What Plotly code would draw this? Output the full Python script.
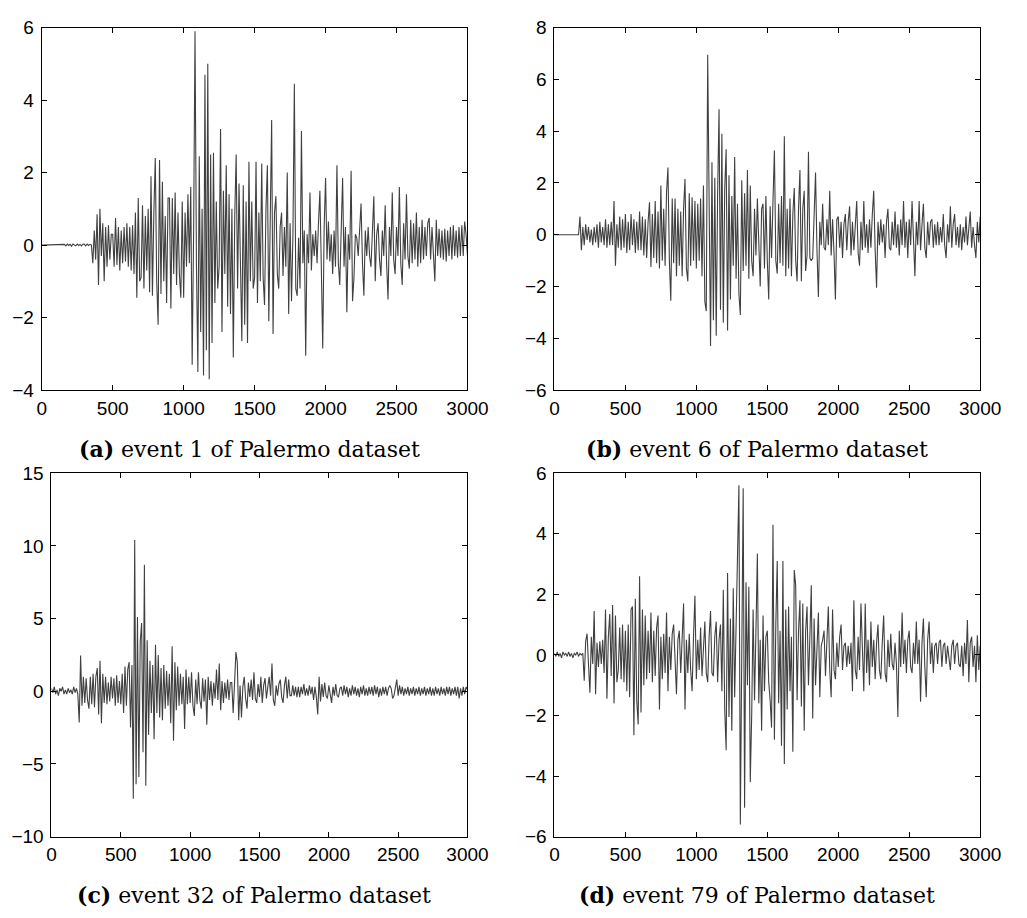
import numpy as np
import plotly.graph_objects as go

STEP = 10

# ---- event 1 (panel a) ----
event1 = [
    0, 0, 0, 0, 0, 0, 0, 0, 0, 0,
    0, 0, 0, 0, 0, 0, 0.02, -0.02, 0.03, -0.01,
    0.02, -0.03, 0.03, 0.0, -0.02, 0.03, -0.01, 0.02, -0.02, 0.03,
    0.02, -0.02, 0.03, -0.01, 0.02, 0.0, -0.5, 0.4, -0.4, 0.85,
    -1.1, 1.0, -0.3, 0.6, -1.0, 0.5, -0.6, 0.55, -0.4, 0.3,
    0.3, -0.6, 0.75, -0.55, 0.5, -0.7, 0.4, -0.5, 0.5, -0.45,
    0.6, -0.6, 0.5, -0.7, 0.55, -0.8, 0.9, -1.45, 1.3, -1.0,
    -0.9, 1.1, -1.2, 0.8, -0.7, 1.0, -1.3, 1.9, -1.4, 0.9,
    2.4, -1.0, -2.2, 2.35, -1.35, 1.75, -1.0, 0.8, -1.6, 1.3,
    1.3, -1.75, 1.3, -0.8, 1.45, -1.1, 0.9, -0.8, -1.45, 1.2,
    -1.45, 0.9, -0.6, 1.4, -0.5, 1.6, -3.3, 0.3, 5.9, -0.5,
    -3.5, 2.45, -2.4, 1.0, -3.6, 4.7, -2.9, 5.0, -3.7, 2.5,
    -2.7, 2.55, -1.6, 1.2, -1.2, -0.6, 3.2, -2.4, 1.5, -0.8,
    2.2, -1.7, 1.4, -1.9, 1.0, -3.1, 0.8, 2.5, -1.2, 1.7,
    -0.8, -2.65, 1.65, -2.2, 1.2, -2.7, 2.3, -1.0, 1.2, -1.2,
    -0.9, 2.3, -1.6, 0.9, -1.0, 2.25, -0.9, -1.65, 1.0, 2.2,
    -2.1, 0.8, 3.45, -2.45, 0.9, 1.35, -0.8, -1.2, 0.5, 0.9,
    -0.85, 0.5, -0.6, 2.0, -1.9, 0.6, -1.55, 0.3, 4.45, -1.2,
    -1.4, 0.2, -1.2, 3.15, -0.5, 0.4, -3.05, 0.3, -0.5, 1.45,
    -0.7, 0.3, -0.3, 0.4, -0.5, 0.6, 1.5, -0.6, -2.85, 0.5,
    1.85, -0.4, 0.65, -0.45, 0.3, -0.8, 0.4, -0.6, 2.2, -0.5,
    -1.1, 0.4, 1.85, -0.6, 0.5, -1.85, 0.3, -0.4, 2.05, -1.55,
    -0.9, 0.3, 0.2, -0.3, 0.6, 1.15, -0.5, -1.4, 0.4, -0.3,
    0.5, -0.3, -0.6, 0.4, 1.35, -1.0, 0.3, 0.6, -0.4, -0.85,
    0.4, -0.3, 1.1, -0.5, -1.5, 0.5, -0.3, 1.45, -0.4, -0.8,
    0.5, -0.3, 1.6, -0.5, -1.1, 0.6, -0.4, 1.4, -0.3, -0.65,
    0.7, -0.5, 0.6, -0.4, 0.9, -0.6, 0.5, -0.5, 0.7, -0.4,
    0.5, -0.3, 0.6, 0.75, -0.4, 0.5, -0.3, -1.0, 0.7, -0.3,
    0.45, -0.35, 0.4, -0.4, 0.45, -0.45, 0.4, -0.3, 0.5, -0.4,
    0.55, -0.3, 0.4, -0.35, 0.5, -0.3, 0.55, -0.3, 0.65, 0.3,
    -0.3,
]

# ---- event 6 (panel b) ----
event6 = [
    0, 0, 0, 0, 0, 0, 0, 0, 0, 0,
    0, 0, 0, 0, 0, 0, 0, 0, 0.7, -0.6,
    0.3, -0.4, 0.4, -0.2, 0.3, -0.3, 0.2, -0.4, 0.3, -0.3,
    0.4, -0.5, 0.5, -0.3, 0.3, -0.4, 0.6, -0.5, 0.4, -0.4,
    0.5, -0.4, 1.3, -1.2, 0.4, -0.5, 0.7, -0.6, 0.6, -0.5,
    0.8, -0.7, 0.5, -0.6, 0.8, -0.4, 0.6, -0.7, 0.5, -0.6,
    0.9, -0.6, 0.7, -0.8, 0.6, -0.9, 0.5, 1.25, -1.25, 0.8,
    -0.9, 1.3, -1.1, 0.9, -1.3, 1.9, -1.0, 1.0, -1.2, 1.65,
    2.6, -1.0, -2.55, 1.4, -1.1, 1.4, -1.6, 1.0, -1.2, 0.9,
    -1.6, 1.0, 2.15, -1.3, -1.8, 1.6, -1.2, 1.45, -1.0, 1.3,
    -1.3, 1.2, -1.0, 1.4, -1.6, 1.9, -2.6, -2.95, 6.95, 0.6,
    -4.3, 2.8, -3.3, 2.2, -3.9, 1.6, 4.85, -2.9, 3.9, -3.4,
    1.8, 3.3, -3.7, 2.3, -2.5, 1.5, -1.2, 3.0, -1.7, 1.2,
    -2.3, -3.1, 2.1, -1.4, 1.6, -1.2, 2.5, -1.7, 1.9, -1.0,
    -1.6, 1.0, -0.8, 1.4, -0.9, -2.0, 1.0, 1.2, -1.3, 1.5,
    -1.0, -2.5, 1.1, -0.9, 1.3, 3.25, -1.0, -1.5, 1.2, -1.1,
    1.5, -1.2, 3.8, -1.6, 1.0, -1.3, 1.4, -1.6, 0.8, 1.8,
    -1.0, -1.8, 1.0, 2.5, -1.8, 1.0, 1.7, -1.4, -0.8, 3.2,
    -0.9, -1.0, -0.9, 0.8, 2.4, -0.6, -2.4, 0.5, -0.4, 1.2,
    -0.5, -0.6, 0.6, -0.4, 1.7, -0.8, 0.6, -0.7, -2.5, 0.6,
    0.7, -0.5, 0.5, -0.9, 0.4, 0.8, -0.6, 0.5, 1.1, -0.8,
    0.5, -0.6, 0.6, 1.3, -0.7, -1.2, 0.5, -0.6, 1.3, -0.5,
    0.4, -0.7, 0.6, -0.5, 0.8, 1.7, -0.6, -2.05, 0.5, -0.4,
    0.6, -0.3, 0.4, -0.9, 0.5, 1.0, -0.5, -0.6, 0.5, -0.4,
    0.9, -0.5, 0.4, -0.8, 0.6, -0.4, 1.3, -0.5, 0.5, -0.9,
    0.6, -0.4, 1.3, -0.5, -1.6, 0.5, -0.4, 1.3, -0.6, 0.4,
    1.2, -0.5, -0.9, 0.5, -0.4, 0.5, 0.6, -0.5, 0.4, -0.4,
    0.5, -0.4, 0.3, -0.3, 0.8, -0.4, -0.9, 0.4, -0.3, 1.1,
    -0.5, 0.4, 0.8, -0.4, 0.3, -0.5, 0.4, -0.6, 0.3, -0.3,
    0.7, -0.4, 0.4, 0.9, -0.5, 0.3, -0.4, -0.9, 0.5, -0.3,
    0.7,
]

# ---- event 32 (panel c) ----
event32 = [
    0.2, -0.1, 0.3, -0.2, 0.1, -0.3, 0.2, 0.0, 0.3, -0.2,
    0.1, -0.2, 0.2, -0.1, 0.1, -0.2, 0.3, -0.1, 0.2, -0.2,
    -2.15, 2.45, -1.0, 1.0, -0.8, 0.9, -0.6, -1.2, 1.0, -0.9,
    1.2, -1.1, 1.0, 1.6, -1.6, 2.1, -2.2, 1.2, -0.8, 1.0,
    -0.9, 0.6, -0.7, 1.0, -0.5, 0.9, -1.0, 1.1, -0.8, 0.7,
    -0.9, 1.2, -1.5, 1.7, -1.0, 1.5, 2.0, -2.5, 1.8, -7.4,
    10.4, -6.4, 5.1, -5.9, 3.4, 4.7, -4.2, 8.7, -6.5, 3.5,
    -3.0, 2.1, -1.5, 1.8, -3.3, 3.2, -1.5, 2.5, -1.8, 1.6,
    -2.0, 1.8, -1.2, 1.4, -1.0, 1.2, -2.2, 3.1, -3.4, 2.0,
    -1.3, 1.7, -1.0, 1.2, -0.9, 1.0, -2.6, 1.5, -0.9, 1.0,
    -0.8, 1.3, -1.0, -1.7, 0.8, -0.9, 1.3, -0.6, -1.2, 0.9,
    -0.7, 0.8, -2.3, 1.0, -0.6, 0.7, -1.0, 0.6, -0.5, 1.5,
    -0.6, 1.9, -1.3, 0.7, -0.8, 0.6, -0.5, 0.8, -0.6, 0.6,
    0.6, -1.5, 0.5, 2.7, 2.0, -2.0, 0.4, -1.8, 0.3, 1.0,
    -0.5, -1.2, 0.6, -0.4, 0.8, -0.6, 1.3, -0.5, -0.8, 0.5,
    -0.4, 1.0, -0.8, 0.4, 0.9, -0.5, 0.3, 1.0, -0.3, 1.9,
    -0.6, -1.0, 0.4, -0.3, 0.5, 0.8, -0.4, -0.8, 0.4, 1.0,
    -0.5, 0.8, -0.3, -0.3, 0.4, -0.3, 0.3, -0.4, 0.3, -0.4,
    0.3, -0.2, 0.5, -0.3, 0.2, -0.3, 0.4, -0.2, 0.3, -0.6,
    0.3, -0.4, -1.6, 1.0, -0.7, 0.5, -0.4, 0.6, -0.3, -0.5,
    0.4, -0.3, -0.8, 0.3, -0.3, 0.5, -0.3, -0.4, 0.2, 0.3,
    -0.3, 0.4, -0.2, 0.3, -0.4, 0.2, -0.3, 0.4, -0.2, 0.3,
    -0.3, 0.2, -0.4, 0.3, -0.2, 0.4, -0.3, 0.2, -0.3, 0.3,
    -0.2, 0.3, -0.3, 0.4, -0.2, 0.3, -0.4, 0.2, -0.3, 0.3,
    -0.2, 0.3, -0.3, 0.2, 0.4, 0.2, -0.5, -0.3, 0.2, 0.8,
    -0.3, 0.4, -0.2, 0.3, -0.3, 0.2, -0.2, 0.3, -0.3, 0.2,
    -0.2, 0.3, -0.3, 0.2, -0.2, 0.3, -0.3, 0.2, -0.2, 0.3,
    -0.3, 0.2, -0.2, 0.3, -0.3, 0.2, -0.3, 0.3, -0.2, 0.2,
    -0.3, 0.3, -0.2, 0.2, -0.3, 0.3, -0.2, 0.3, -0.3, 0.2,
    -0.2, 0.3, -0.3, 0.3, -0.5, 0.2, -0.3, 0.3, -0.2, 0.3,
    0.1,
]

# ---- event 79 (panel d) ----
event79 = [
    0.05, -0.05, 0.1, -0.05, 0.05, -0.1, 0.1, 0.0, 0.05, -0.05,
    0.1, -0.05, 0.05, -0.1, 0.05, 0.0, 0.1, -0.05, 0.05, 0.0,
    0.05, -0.85, 0.45, 0.7, -0.3, -1.25, 0.6, -0.3, 1.45, -1.3,
    0.4, -0.4, 0.45, -0.3, 0.5, -0.6, 1.5, -1.45, 0.6, 1.35,
    -0.7, 1.65, -1.6, 1.3, -0.9, -0.5, 0.9, -0.8, 1.0, -0.9,
    0.8, -1.2, 1.0, -1.4, 1.5, 1.6, -2.65, 1.85, -1.5, -2.3,
    2.6, -1.9, 1.5, -1.0, 1.3, -0.8, 0.8, -0.6, 1.4, -0.9,
    0.8, -0.7, 0.9, 1.3, -1.8, 0.6, -0.8, 0.7, -0.6, 1.4,
    -1.2, 0.6, -0.5, 0.7, 1.0, -0.4, -1.3, 0.5, 0.8, -0.6,
    0.6, 1.7, -1.8, 0.5, -0.6, 0.7, -0.5, -1.2, 0.6, 1.95,
    -0.8, 0.5, -0.5, 0.9, -0.7, 0.5, 1.1, -0.6, -0.9, 0.6,
    1.45, -0.6, -0.7, 0.6, 1.1, -0.9, 0.5, 1.0, -1.2, 2.15,
    -1.8, -3.15, 2.7, -2.05, 1.2, -2.5, 2.2, -1.4, 1.0, 2.4,
    5.6, -5.6, 1.2, 5.5, -5.05, 2.4, -1.0, 2.25, -4.2, -2.0,
    1.5, -1.5, 0.8, 3.35, -1.6, 0.5, -2.5, 1.3, -1.2, 0.6,
    0.8, -0.9, -1.5, -2.4, 4.3, -2.8, 1.0, 3.1, -1.6, 0.8,
    -3.0, 3.1, -3.6, 1.5, -1.8, 1.6, -1.2, 0.6, -3.2, 2.8,
    2.3, -1.5, 0.8, 1.8, -1.7, 1.7, -2.5, 0.8, 1.6, -1.0,
    0.6, 2.3, -2.1, 1.2, -1.0, 0.6, 1.4, -1.4, 0.3, 0.5,
    0.8, -0.7, 0.5, 1.6, -0.5, -1.4, 1.5, -0.5, -0.8, 0.4,
    -0.4, 0.6, 1.0, -0.5, 0.3, 0.4, -0.4, 0.3, -0.3, 0.4,
    -1.2, 1.8, -0.5, -0.8, 0.6, -0.5, 1.7, 0.3, -1.2, 1.7,
    -0.6, 0.5, -1.0, 1.1, -0.4, 0.5, -0.8, 0.4, 1.0, -0.5,
    -0.8, 0.4, 1.3, -0.6, -0.9, 0.5, -0.4, 0.7, -0.3, -0.5,
    0.4, -0.3, -2.05, 0.8, -0.4, 1.4, -0.3, 0.5, -0.6, 0.5,
    0.8, -0.4, -0.6, 0.4, -0.3, 1.1, -0.3, 0.5, -1.55, 0.4,
    1.2, -0.4, -1.4, 0.5, 1.1, -0.3, 0.4, -0.6, 0.3, 0.4,
    -0.3, 0.4, 0.5, -0.4, 0.3, 0.4, -0.3, 0.3, -0.2, -0.5,
    0.3, 0.5, -0.3, 0.3, 0.4, -0.3, -0.4, 0.3, -0.7, 0.4,
    -0.3, 1.15, -0.9, 0.4, 0.6, -0.4, 0.3, -0.9, 0.65, -0.5,
    0.3,
]

captions = [
    "<b>(a)</b> event 1 of Palermo dataset",
    "<b>(b)</b> event 6 of Palermo dataset",
    "<b>(c)</b> event 32 of Palermo dataset",
    "<b>(d)</b> event 79 of Palermo dataset",
]
x_ticks = [0, 500, 1000, 1500, 2000, 2500, 3000]
y_ticks = [
    [-4, -2, 0, 2, 4, 6],
    [-6, -4, -2, 0, 2, 4, 6, 8],
    [-10, -5, 0, 5, 10, 15],
    [-6, -4, -2, 0, 2, 4, 6],
]
series = [event1, event6, event32, event79]

W, H = 1027, 918
# plot-area boxes in pixels: (left, right, top, bottom)
boxes = [
    (37.7, 474.5, 18, 389),
    (563.7, 1000.5, 18, 389),
    (47.7, 474.5, 474, 846),
    (563.7, 1000.5, 474, 846),
]
caption_pos = [(251, 449), (772, 449), (255, 906), (772, 906)]

fig = go.Figure()
layout = {}
tick_font = dict(family="Liberation Sans, Arial, Helvetica, sans-serif", size=19, color="black")
for i, vals in enumerate(series):
    n = i + 1
    xs = np.arange(len(vals)) * STEP
    fig.add_trace(go.Scatter(
        x=xs, y=vals, mode="lines",
        line=dict(color="#404040", width=1.1),
        xaxis=f"x{n}", yaxis=f"y{n}", showlegend=False, hoverinfo="skip",
    ))
    l, r, t, b = boxes[i]
    common = dict(
        showline=True, linecolor="black", linewidth=1, mirror="ticks",
        ticks="inside", ticklen=5, tickwidth=1, tickcolor="black",
        showgrid=False, zeroline=False, tickfont=tick_font,
    )
    layout[f"xaxis{n if n > 1 else ''}"] = dict(
        domain=[l / W, r / W], range=[0, 3000], tickvals=x_ticks,
        anchor=f"y{n}", ticklabelstandoff=1, **common,
    )
    layout[f"yaxis{n if n > 1 else ''}"] = dict(
        domain=[1 - b / H, 1 - t / H], range=[y_ticks[i][0], y_ticks[i][-1]],
        tickvals=y_ticks[i], anchor=f"x{n}", ticklabelstandoff=3, **common,
    )

annotations = []
for (cx, cy), txt in zip(caption_pos, captions):
    annotations.append(dict(
        text=txt, x=cx / W, y=1 - cy / H, xref="paper", yref="paper",
        xanchor="center", yanchor="middle", showarrow=False,
        font=dict(family="DejaVu Serif, Liberation Serif, serif", size=22, color="black"),
    ))

fig.update_layout(
    width=W, height=H, margin=dict(l=0, r=0, t=0, b=0),
    paper_bgcolor="white", plot_bgcolor="white",
    annotations=annotations, **layout,
)
fig.write_html("out.html")
